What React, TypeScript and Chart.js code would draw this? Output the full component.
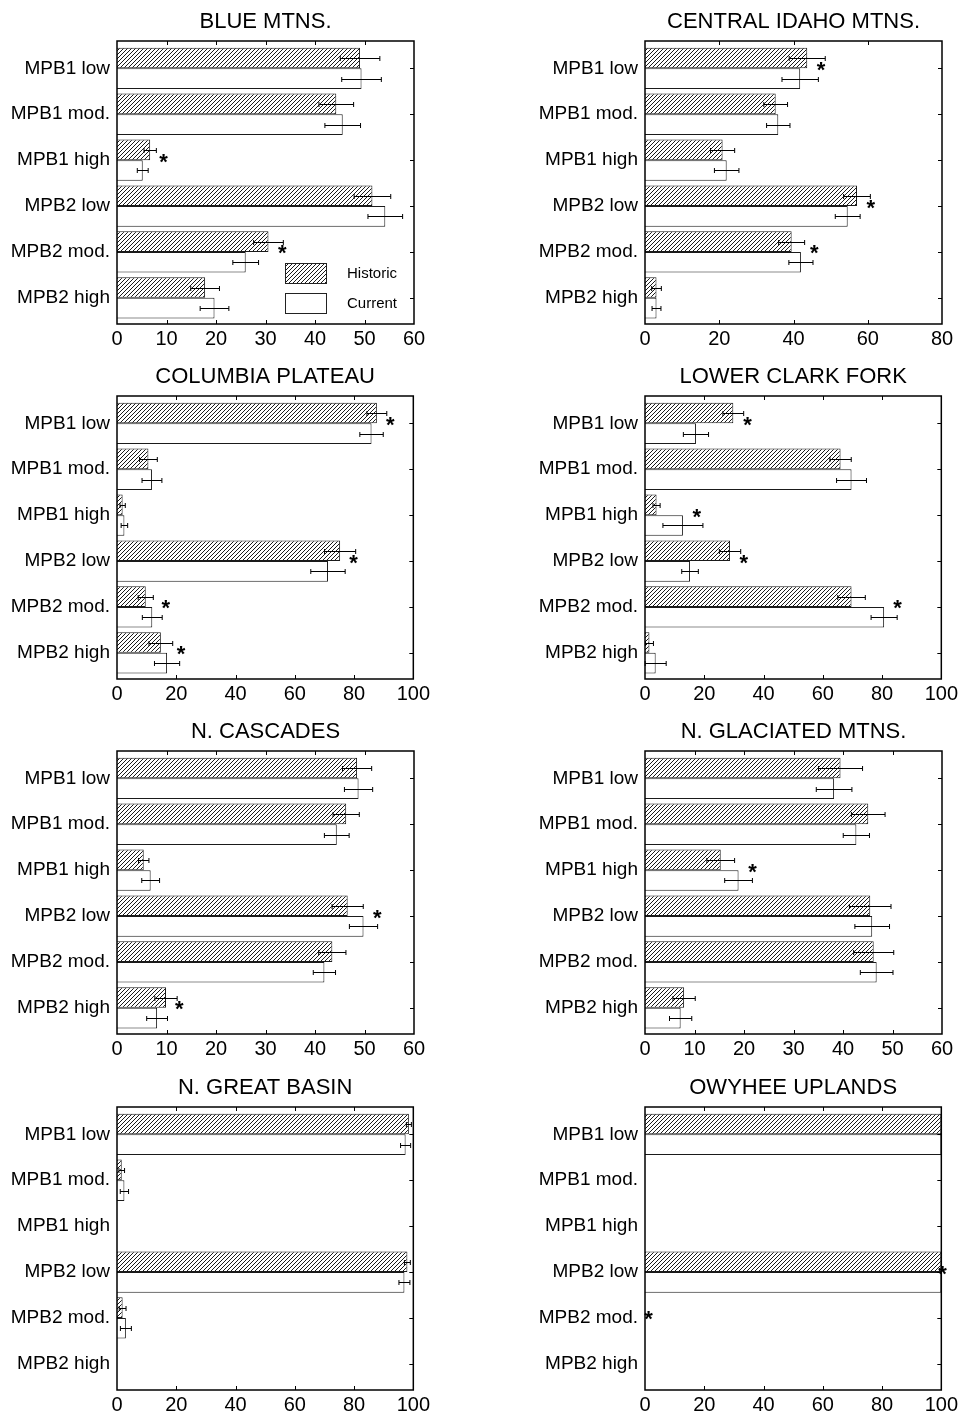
import React, { useEffect, useRef } from 'react';
import { Chart, registerables } from 'chart.js';

Chart.register(...registerables);

// ---------- data ----------
const categories = ['MPB1 low', 'MPB1 mod.', 'MPB1 high', 'MPB2 low', 'MPB2 mod.', 'MPB2 high'];
const seriesNames = ['Historic', 'Current'];

const blueTitle = 'BLUE MTNS.';
const blueHistoric = [49.1, 44.3, 6.7, 51.6, 30.6, 17.8];
const blueHistoricErr = [4.0, 3.5, 1.25, 3.7, 3.0, 2.9];
const blueCurrent = [49.4, 45.6, 5.2, 54.2, 26.0, 19.7];
const blueCurrentErr = [4.0, 3.6, 1.1, 3.5, 2.6, 2.9];
const blueStars = [null, null, 9.4, null, 33.4, null];
const blueTicks = [0, 10, 20, 30, 40, 50, 60];

const idahoTitle = 'CENTRAL IDAHO MTNS.';
const idahoHistoric = [43.7, 35.2, 20.9, 57.1, 39.5, 3.1];
const idahoHistoricErr = [4.85, 3.2, 3.25, 3.6, 3.5, 1.3];
const idahoCurrent = [41.8, 35.9, 22.0, 54.6, 42.0, 3.1];
const idahoCurrentErr = [4.9, 3.15, 3.3, 3.35, 3.25, 1.2];
const idahoStars = [47.4, null, null, 60.8, 45.6, null];
const idahoTicks = [0, 20, 40, 60, 80];

const columbiaTitle = 'COLUMBIA PLATEAU';
const columbiaHistoric = [87.7, 10.6, 1.9, 75.3, 9.7, 14.8];
const columbiaHistoricErr = [3.35, 3.0, 0.9, 5.25, 2.55, 4.0];
const columbiaCurrent = [85.9, 11.8, 2.5, 71.2, 11.9, 16.9];
const columbiaCurrentErr = [3.95, 3.35, 1.1, 5.8, 3.35, 4.25];
const columbiaStars = [92.2, null, null, 79.8, 16.5, 21.6];
const columbiaTicks = [0, 20, 40, 60, 80, 100];

const clarkTitle = 'LOWER CLARK FORK';
const clarkHistoric = [29.8, 66.0, 3.9, 28.7, 69.7, 1.5];
const clarkHistoricErr = [3.5, 3.6, 1.2, 3.6, 4.65, 1.35];
const clarkCurrent = [17.2, 69.7, 12.8, 15.2, 80.7, 3.6];
const clarkCurrentErr = [4.25, 5.05, 6.75, 2.8, 4.4, 3.55];
const clarkStars = [34.6, null, 17.5, 33.3, 85.2, null];
const clarkTicks = [0, 20, 40, 60, 80, 100];

const cascadesTitle = 'N. CASCADES';
const cascadesHistoric = [48.5, 46.3, 5.4, 46.6, 43.5, 9.9];
const cascadesHistoricErr = [2.95, 2.65, 1.05, 3.15, 2.75, 2.25];
const cascadesCurrent = [48.8, 44.4, 6.8, 49.8, 41.9, 8.1];
const cascadesCurrentErr = [2.85, 2.5, 1.8, 2.85, 2.25, 2.1];
const cascadesStars = [null, null, null, 52.6, null, 12.6];
const cascadesTicks = [0, 10, 20, 30, 40, 50, 60];

const glaciatedTitle = 'N. GLACIATED MTNS.';
const glaciatedHistoric = [39.5, 45.1, 15.3, 45.5, 46.2, 7.9];
const glaciatedHistoricErr = [4.45, 3.4, 2.8, 4.2, 4.05, 2.25];
const glaciatedCurrent = [38.2, 42.7, 18.9, 45.9, 46.8, 7.2];
const glaciatedCurrentErr = [3.6, 2.65, 2.8, 3.5, 3.3, 2.25];
const glaciatedStars = [null, null, 21.7, null, null, null];
const glaciatedTicks = [0, 10, 20, 30, 40, 50, 60];

const basinTitle = 'N. GREAT BASIN';
const basinHistoric = [98.5, 1.6, 0, 98.0, 1.9, 0];
const basinHistoricErr = [0.85, 0.95, 0, 1.0, 1.15, 0];
const basinCurrent = [97.4, 2.5, 0, 97.0, 3.0, 0];
const basinCurrentErr = [1.7, 1.4, 0, 1.85, 1.85, 0];
const basinStars = [null, null, null, null, null, null];
const basinTicks = [0, 20, 40, 60, 80, 100];

const owyheeTitle = 'OWYHEE UPLANDS';
const owyheeHistoric = [100, 0, 0, 100, 0, 0];
const owyheeHistoricErr = [0, 0, 0, 0, 0, 0];
const owyheeCurrent = [100, 0, 0, 100, 0, 0];
const owyheeCurrentErr = [0, 0, 0, 0, 0, 0];
const owyheeStars = [null, null, null, 100.4, 1.2, null];
const owyheeTicks = [0, 20, 40, 60, 80, 100];

type Panel = {
  title: string;
  hist: number[];
  histErr: number[];
  cur: number[];
  curErr: number[];
  stars: (number | null)[];
  ticks: number[];
  legend?: boolean;
};

const panels: Panel[] = [
  { title: blueTitle, hist: blueHistoric, histErr: blueHistoricErr, cur: blueCurrent, curErr: blueCurrentErr, stars: blueStars, ticks: blueTicks, legend: true },
  { title: idahoTitle, hist: idahoHistoric, histErr: idahoHistoricErr, cur: idahoCurrent, curErr: idahoCurrentErr, stars: idahoStars, ticks: idahoTicks },
  { title: columbiaTitle, hist: columbiaHistoric, histErr: columbiaHistoricErr, cur: columbiaCurrent, curErr: columbiaCurrentErr, stars: columbiaStars, ticks: columbiaTicks },
  { title: clarkTitle, hist: clarkHistoric, histErr: clarkHistoricErr, cur: clarkCurrent, curErr: clarkCurrentErr, stars: clarkStars, ticks: clarkTicks },
  { title: cascadesTitle, hist: cascadesHistoric, histErr: cascadesHistoricErr, cur: cascadesCurrent, curErr: cascadesCurrentErr, stars: cascadesStars, ticks: cascadesTicks },
  { title: glaciatedTitle, hist: glaciatedHistoric, histErr: glaciatedHistoricErr, cur: glaciatedCurrent, curErr: glaciatedCurrentErr, stars: glaciatedStars, ticks: glaciatedTicks },
  { title: basinTitle, hist: basinHistoric, histErr: basinHistoricErr, cur: basinCurrent, curErr: basinCurrentErr, stars: basinStars, ticks: basinTicks },
  { title: owyheeTitle, hist: owyheeHistoric, histErr: owyheeHistoricErr, cur: owyheeCurrent, curErr: owyheeCurrentErr, stars: owyheeStars, ticks: owyheeTicks },
];

// ---------- layout / style ----------
const FONT = '"Liberation Sans", Arial, Helvetica, sans-serif';
const CANVAS_W = 437;
const CANVAS_H = 350;
const COL_LEFT = [0, 528];
const ROW_TOP = [0, 355, 710, 1066];
const Y_AXIS_W = 117;
const AREA_TOP = 45.4;
const AREA_BOTTOM = 320.8;
const PLOT_RIGHT = 414;
const FRAME_EXT_TOP = 4.4;
const FRAME_EXT_BOTTOM = 3.2;

function makeHatch(): CanvasPattern | string {
  const size = 4;
  const c = document.createElement('canvas');
  c.width = size;
  c.height = size;
  const g = c.getContext('2d');
  if (!g) return '#888';
  g.fillStyle = '#fff';
  g.fillRect(0, 0, size, size);
  g.strokeStyle = '#000';
  g.lineWidth = 0.9;
  g.beginPath();
  g.moveTo(-1, size + 1);
  g.lineTo(size + 1, -1);
  g.moveTo(-1, 1);
  g.lineTo(1, -1);
  g.moveTo(size - 1, size + 1);
  g.lineTo(size + 1, size - 1);
  g.stroke();
  return g.createPattern(c, 'repeat') || '#888';
}

function PanelChart({ panel, left, top }: { panel: Panel; left: number; top: number }) {
  const ref = useRef<HTMLCanvasElement | null>(null);

  useEffect(() => {
    const canvas = ref.current;
    if (!canvas) return;
    const hatch = makeHatch();
    const xMax = panel.ticks[panel.ticks.length - 1];

    const overlay = {
      id: 'overlay' + panel.title,
      afterDatasetsDraw(chart: any) {
        const ctx = chart.ctx;
        const xs = chart.scales.x;
        const ys = chart.scales.y;
        ctx.save();
        // error bars
        ctx.strokeStyle = '#000';
        ctx.lineWidth = 1;
        chart.data.datasets.forEach((ds: any, i: number) => {
          const meta = chart.getDatasetMeta(i);
          meta.data.forEach((bar: any, j: number) => {
            const v = ds.data[j];
            const e = ds.errors[j];
            if (!e) return;
            const y = Math.round(bar.y) + 0.5;
            const x1 = xs.getPixelForValue(v - e);
            const x2 = xs.getPixelForValue(v + e);
            ctx.beginPath();
            ctx.moveTo(x1, y);
            ctx.lineTo(x2, y);
            ctx.moveTo(x1, y - 2.5);
            ctx.lineTo(x1, y + 2.5);
            ctx.moveTo(x2, y - 2.5);
            ctx.lineTo(x2, y + 2.5);
            ctx.stroke();
          });
        });
        // significance stars
        ctx.fillStyle = '#000';
        ctx.font = 'bold 22px ' + FONT;
        ctx.textAlign = 'center';
        ctx.textBaseline = 'alphabetic';
        panel.stars.forEach((s, j) => {
          if (s === null || s === undefined) return;
          const x = xs.getPixelForValue(s);
          const y = ys.getPixelForTick(j) - 4;
          ctx.fillText('*', x, y + 12.5);
        });
        ctx.restore();
      },
      afterDraw(chart: any) {
        const ctx = chart.ctx;
        const xs = chart.scales.x;
        const ys = chart.scales.y;
        const { left: l, right: r, top: t, bottom: b } = chart.chartArea;
        const ft = t - FRAME_EXT_TOP;
        const fb = b + FRAME_EXT_BOTTOM;
        ctx.save();
        ctx.strokeStyle = '#000';
        ctx.lineWidth = 1.5;
        ctx.strokeRect(l, ft, r - l, fb - ft);
        ctx.lineWidth = 1;
        ctx.beginPath();
        xs.ticks.forEach((tk: any) => {
          const px = Math.round(xs.getPixelForValue(tk.value)) + 0.5;
          if (px <= l + 2 || px >= r - 2) return;
          ctx.moveTo(px, ft);
          ctx.lineTo(px, ft + 4);
          ctx.moveTo(px, fb);
          ctx.lineTo(px, fb - 4);
        });
        ys.ticks.forEach((_tk: any, i: number) => {
          const py = Math.round(ys.getPixelForTick(i)) + 0.5;
          ctx.moveTo(r, py);
          ctx.lineTo(r - 4, py);
        });
        ctx.stroke();
        // title
        ctx.fillStyle = '#000';
        ctx.font = '22px ' + FONT;
        ctx.textAlign = 'center';
        ctx.textBaseline = 'alphabetic';
        ctx.fillText(panel.title, (l + r) / 2, 28);
        // legend
        if (panel.legend) {
          const bx = l + 168;
          const bw = 41;
          const bh = 20;
          const y1 = ft + 222;
          const y2 = ft + 252;
          ctx.fillStyle = hatch as any;
          ctx.fillRect(bx, y1, bw, bh);
          ctx.fillStyle = '#fff';
          ctx.fillRect(bx, y2, bw, bh);
          ctx.strokeStyle = '#222';
          ctx.lineWidth = 1;
          ctx.strokeRect(bx + 0.5, y1 + 0.5, bw, bh);
          ctx.strokeRect(bx + 0.5, y2 + 0.5, bw, bh);
          ctx.fillStyle = '#000';
          ctx.font = '15px ' + FONT;
          ctx.textAlign = 'left';
          ctx.textBaseline = 'middle';
          ctx.fillText(seriesNames[0], l + 230, y1 + bh / 2 + 1);
          ctx.fillText(seriesNames[1], l + 230, y2 + bh / 2 + 1);
        }
        ctx.restore();
      },
    };

    const chart = new Chart(canvas, {
      type: 'bar',
      data: {
        labels: categories,
        datasets: [
          {
            label: seriesNames[0],
            data: panel.hist,
            errors: panel.histErr,
            backgroundColor: hatch,
            borderColor: '#1a1a1a',
            borderWidth: 1,
            categoryPercentage: 0.9,
            barPercentage: 1,
          } as any,
          {
            label: seriesNames[1],
            data: panel.cur,
            errors: panel.curErr,
            backgroundColor: '#ffffff',
            borderColor: '#1a1a1a',
            borderWidth: 1,
            categoryPercentage: 0.9,
            barPercentage: 1,
          } as any,
        ],
      },
      options: {
        indexAxis: 'y',
        responsive: false,
        animation: false,
        devicePixelRatio: 1,
        layout: { padding: { top: AREA_TOP, right: CANVAS_W - PLOT_RIGHT, bottom: 0, left: 0 } },
        plugins: {
          legend: { display: false },
          title: { display: false },
          tooltip: { enabled: false },
        },
        scales: {
          x: {
            type: 'linear',
            min: 0,
            max: xMax,
            afterBuildTicks: (s: any) => {
              s.ticks = panel.ticks.map((v) => ({ value: v }));
            },
            grid: { display: false, drawTicks: false },
            border: { display: false },
            ticks: {
              color: '#000',
              font: { family: FONT, size: 20 },
              padding: 7,
              maxRotation: 0,
              autoSkip: false,
            },
            afterFit: (s: any) => {
              s.height = CANVAS_H - AREA_BOTTOM;
            },
          },
          y: {
            type: 'category',
            grid: { display: false, drawTicks: false },
            border: { display: false },
            ticks: {
              color: '#000',
              font: { family: FONT, size: 19 },
              padding: 7,
              autoSkip: false,
            },
            afterFit: (s: any) => {
              s.width = Y_AXIS_W;
            },
          },
        },
      } as any,
      plugins: [overlay],
    });
    return () => chart.destroy();
  }, [panel]);

  return (
    <canvas
      ref={ref}
      width={CANVAS_W}
      height={CANVAS_H}
      style={{ position: 'absolute', left, top, width: CANVAS_W, height: CANVAS_H }}
    />
  );
}

export default function App() {
  return (
    <div style={{ position: 'absolute', left: 0, top: 0, width: 965, height: 1416, background: '#fff', overflow: 'hidden' }}>
      {panels.map((p, i) => (
        <PanelChart key={p.title} panel={p} left={COL_LEFT[i % 2]} top={ROW_TOP[Math.floor(i / 2)]} />
      ))}
    </div>
  );
}
